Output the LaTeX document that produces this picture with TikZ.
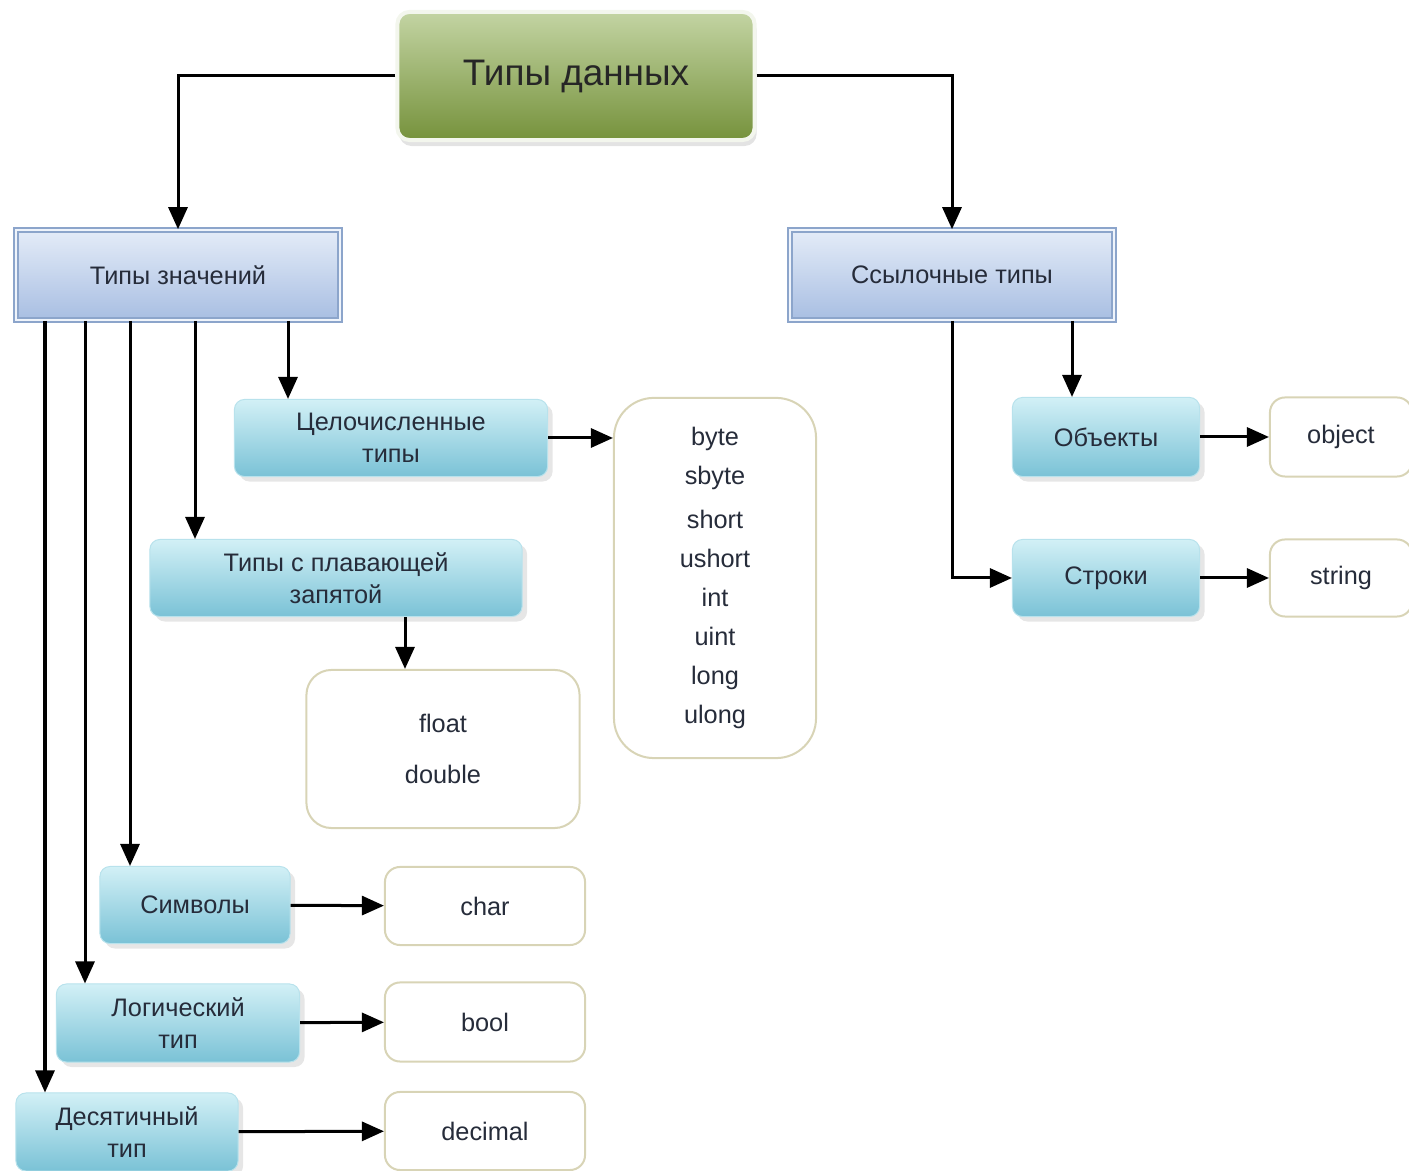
\documentclass[tikz,border=0pt]{standalone}
\usepackage{fontspec}
\setmainfont{Liberation Sans}
\usetikzlibrary{arrows.meta,shadows}

\definecolor{rootTop}{HTML}{C3D4A3}
\definecolor{rootMid}{HTML}{809D47}
\definecolor{rootBot}{HTML}{76923C}
\definecolor{valTop}{HTML}{E4ECF8}
\definecolor{valBot}{HTML}{A8BEE2}
\definecolor{valLine}{HTML}{8CA5CB}
\definecolor{subTop}{HTML}{D2F0F6}
\definecolor{subBot}{HTML}{7AC2D6}
\definecolor{listLine}{HTML}{D8D4B6}
\definecolor{txt}{HTML}{262C3A}

\begin{document}
\begin{tikzpicture}[x=0.01cm,y=-0.01cm,
  >={Triangle[length=0.22cm,width=0.19cm]},
  conn/.style={line width=0.03cm,->},
  rootbox/.style={rounded corners=0.12cm,draw=white!80!rootTop,line width=0.04cm,
    top color=rootTop,middle color=rootMid,bottom color=rootBot,
    drop shadow={opacity=0.22,shadow xshift=0.02cm,shadow yshift=-0.06cm},
    minimum width=3.57cm,minimum height=1.28cm,text=black!85,
    font=\fontsize{10.5}{12}\selectfont},
  valbox/.style={draw=valLine,double=valTop!60!white,double distance=0.025cm,line width=0.015cm,
    top color=valTop,bottom color=valBot,minimum width=3.24cm,minimum height=0.9cm,
    text=txt,font=\fontsize{7.2}{9.1}\selectfont},
  subbox/.style={rounded corners=0.1cm,draw=subTop!70!subBot,line width=0.01cm,
    top color=subTop,bottom color=subBot,
    drop shadow={opacity=0.2,shadow xshift=0.05cm,shadow yshift=-0.05cm},
    align=center,text=txt,font=\fontsize{7.2}{9.1}\selectfont},
  listbox/.style={rounded corners=0.15cm,draw=listLine,line width=0.02cm,fill=white,
    align=center,text=txt,font=\fontsize{7.2}{11.1}\selectfont}]

\useasboundingbox (0,0) rectangle (1409,1171);
\clip (0,0) rectangle (1409,1171);

% Root
\node (root) at (576,76) [rootbox] {Типы данных};

% Value and reference types
\node (val) at (178,275) [valbox] {Типы значений};
\node (ref) at (952,275) [valbox] {Ссылочные типы};

% Value type groups
\node (int) at (391,438) [subbox,minimum width=3.13cm,minimum height=0.77cm] {Целочисленные\\типы};
\node (flt) at (336,578) [subbox,minimum width=3.72cm,minimum height=0.77cm] {Типы с плавающей\\запятой};
\node (sym) at (195,905) [subbox,minimum width=1.9cm,minimum height=0.77cm] {Символы};
\node (log) at (178,1023) [subbox,minimum width=2.43cm,minimum height=0.78cm] {Логический\\тип};
\node (dec) at (127,1132) [subbox,minimum width=2.22cm,minimum height=0.78cm] {Десятичный\\тип};

% Reference type groups
\node (obj) at (1106,437) [subbox,minimum width=1.87cm,minimum height=0.79cm] {Объекты};
\node (str) at (1106,578) [subbox,minimum width=1.87cm,minimum height=0.77cm] {Строки};

% Keywords
\node (intl) at (715,578) [listbox,rounded corners=0.4cm,minimum width=2.02cm,minimum height=3.6cm]
  {byte\\sbyte\\[1.4pt]short\\ushort\\int\\uint\\long\\ulong};
\node (fltl) at (443,749) [listbox,rounded corners=0.25cm,minimum width=2.73cm,minimum height=1.58cm]
  {float\\[3.4pt]double};
\node (syml) at (485,906) [listbox,minimum width=2cm,minimum height=0.78cm] {char};
\node (logl) at (485,1022) [listbox,minimum width=2cm,minimum height=0.79cm] {bool};
\node (decl) at (485,1131) [listbox,minimum width=2cm,minimum height=0.78cm] {decimal};
\node (objl) at (1341,437) [listbox,minimum width=1.42cm,minimum height=0.79cm] {object};
\node (strl) at (1341,578) [listbox,minimum width=1.42cm,minimum height=0.77cm] {string};

% Root to kinds
\draw [conn] (root.west) -| (val.north);
\draw [conn] (root.east) -| (ref.north);

% Value kinds
\draw [conn] (288,0 |- val.south) -- (288,0 |- int.north);
\draw [conn] (195,0 |- val.south) -- (195,0 |- flt.north);
\draw [conn] (130,0 |- val.south) -- (130,0 |- sym.north);
\draw [conn] (85,0 |- val.south) -- (85,0 |- log.north);
\draw [conn] (45,0 |- val.south) -- (45,0 |- dec.north);

% Reference kinds
\draw [conn] (1072,0 |- ref.south) -- (1072,0 |- obj.north);
\draw [conn] (ref.south) |- (str.west);

% Keywords
\draw [conn] (int.east) -- (int.east -| intl.west);
\draw [conn] (405,0 |- flt.south) -- (405,0 |- fltl.north);
\draw [conn] (sym) -- (syml);
\draw [conn] (log) -- (logl);
\draw [conn] (dec) -- (decl);
\draw [conn] (obj) -- (objl);
\draw [conn] (str) -- (strl);

\end{tikzpicture}
\end{document}
